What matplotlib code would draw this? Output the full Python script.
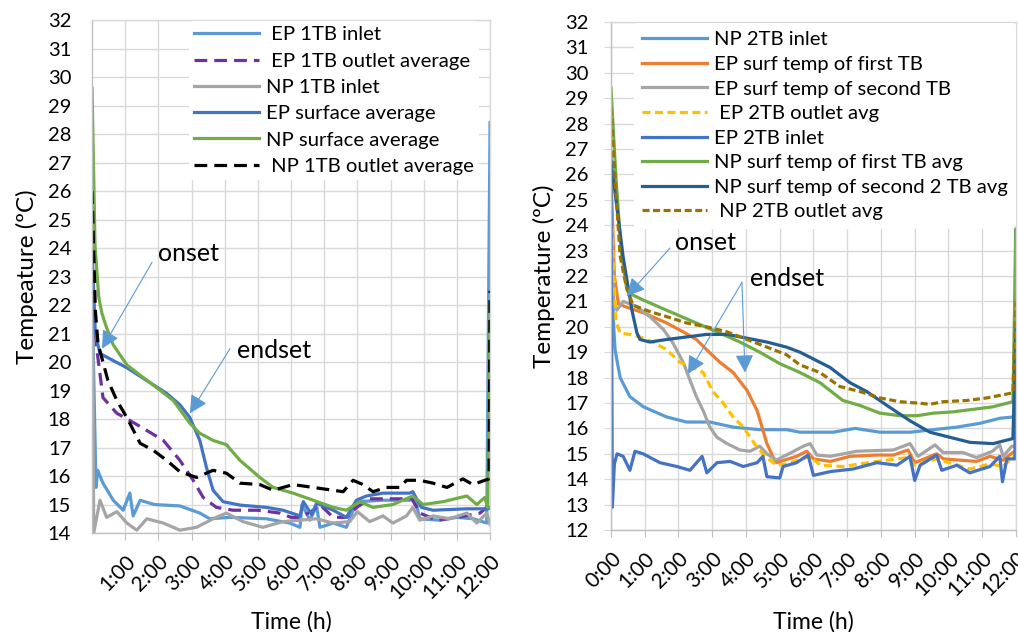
import matplotlib
matplotlib.use('Agg')
import matplotlib.pyplot as plt

# ---- Datos panel izquierdo (1TB) : tiempo en horas, temperatura en ºC ----
t_ep1_inlet = [0, 0.12, 0.17, 0.33, 0.64, 0.94, 1.14, 1.24, 1.45, 1.88, 2.65, 3.25, 3.55, 4.16, 5.26, 5.96,
               6.27, 6.33, 6.57, 6.77, 6.87, 7.27, 7.67, 7.97, 8.77, 9.58, 9.72, 9.88, 10.5, 11.0, 11.5, 11.9, 12.0]
ep1_inlet = [22.5, 15.6, 16.2, 15.75, 15.15, 14.8, 15.4, 14.6, 15.15, 15.0, 14.95, 14.7, 14.5, 14.55, 14.5, 14.35,
             14.2, 15.0, 14.45, 14.95, 14.2, 14.35, 14.2, 15.1, 15.15, 15.15, 15.3, 14.5, 14.45, 14.55, 14.5, 14.35, 28.4]

t_ep1_outlet = [0.1, 0.15, 0.33, 0.75, 1.14, 1.65, 2.15, 2.65, 3.05, 3.35, 3.75, 4.25, 5.0, 5.66, 6.0, 6.27,
                6.67, 6.87, 7.27, 7.67, 7.98, 8.37, 9.18, 9.64, 9.79, 9.88, 10.4, 11.0, 11.7, 11.9, 12.0]
ep1_outlet = [21.0, 20.4, 18.75, 18.2, 17.95, 17.6, 17.25, 16.55, 15.85, 15.25, 14.9, 14.8, 14.8, 14.7, 14.55, 14.55,
              14.8, 15.0, 14.55, 14.55, 14.9, 15.2, 15.2, 15.2, 14.9, 14.7, 14.45, 14.55, 14.7, 14.9, 14.9]

t_np1_inlet = [0, 0.05, 0.24, 0.44, 0.75, 1.05, 1.35, 1.65, 2.15, 2.65, 3.15, 3.65, 4.05, 4.55, 5.15, 5.75, 6.27,
               6.77, 7.26, 7.77, 8.0, 8.37, 8.77, 9.07, 9.48, 9.67, 9.88, 10.28, 10.78, 11.3, 11.6, 11.9, 12.0]
np1_inlet = [27.0, 14.0, 15.15, 14.55, 14.75, 14.35, 14.1, 14.5, 14.35, 14.1, 14.2, 14.5, 14.7, 14.4, 14.2, 14.4, 14.45,
             14.5, 14.35, 14.4, 14.75, 14.4, 14.6, 14.35, 14.6, 14.9, 14.45, 14.6, 14.5, 14.7, 14.35, 14.7, 14.3]

t_ep_surf = [0, 0.1, 0.24, 0.64, 1.05, 1.65, 2.25, 2.65, 2.95, 3.25, 3.45, 3.65, 3.95, 4.46, 5.26, 5.76, 6.27,
             6.37, 6.62, 6.77, 7.27, 7.67, 7.97, 8.27, 8.77, 9.58, 9.67, 9.93, 10.28, 11.3, 11.95, 12.0]
ep_surf = [24.0, 21.0, 20.3, 20.05, 19.8, 19.35, 18.9, 18.5, 18.05, 17.25, 16.3, 15.5, 15.1, 14.98, 14.9, 14.8, 14.6,
           15.1, 14.65, 15.05, 14.8, 14.55, 15.15, 15.3, 15.4, 15.4, 15.45, 14.9, 14.8, 14.85, 14.85, 14.9]

t_np_surf = [0, 0.09, 0.2, 0.3, 0.44, 0.64, 1.05, 1.55, 1.95, 2.45, 2.95, 3.25, 3.65, 4.05, 4.46, 5.06, 5.46, 6.06,
             6.67, 7.27, 7.67, 8.07, 8.47, 9.07, 9.67, 9.98, 10.58, 11.3, 11.6, 11.84, 11.93, 12.0]
np_surf = [29.6, 24.1, 22.3, 21.7, 21.2, 20.6, 19.9, 19.45, 19.1, 18.65, 17.85, 17.5, 17.25, 17.1, 16.55, 15.95, 15.6,
           15.4, 15.15, 14.9, 14.8, 15.1, 14.9, 15.0, 15.3, 15.0, 15.1, 15.3, 15.0, 15.25, 14.9, 22.0]

t_np1_outlet = [0, 0.1, 0.18, 0.48, 0.75, 1.05, 1.45, 1.85, 2.25, 2.65, 3.15, 3.65, 4.05, 4.46, 5.06, 5.46, 6.06,
                6.67, 7.27, 7.57, 7.87, 8.17, 8.47, 8.87, 9.28, 9.48, 9.88, 10.28, 10.7, 11.18, 11.48, 11.84, 11.97, 12.0]
np1_outlet = [26.0, 21.8, 20.65, 19.35, 18.65, 18.05, 17.15, 16.9, 16.55, 16.15, 15.95, 16.2, 16.1, 15.75, 15.7, 15.5,
              15.7, 15.6, 15.5, 15.45, 15.85, 15.7, 15.45, 15.6, 15.6, 15.85, 15.85, 15.75, 15.6, 15.9, 15.7, 15.85,
              15.9, 22.5]

# ---- Datos panel derecho (2TB) ----
t_np2_inlet = [0.03, 0.08, 0.12, 0.27, 0.56, 0.96, 1.65, 2.24, 2.93, 3.62, 4.41, 5.2, 5.6, 6.58, 7.23, 7.97,
               8.86, 9.55, 10.25, 10.93, 11.53, 11.93, 12.0]
np2_inlet = [22.0, 20.0, 19.1, 18.0, 17.25, 16.85, 16.45, 16.25, 16.25, 16.05, 15.95, 15.95, 15.85, 15.85, 16.0, 15.85,
             15.85, 15.95, 16.05, 16.2, 16.4, 16.45, 16.5]

t_ep_first = [0, 0.1, 0.22, 0.41, 0.96, 1.65, 2.14, 2.53, 2.83, 3.23, 3.62, 4.03, 4.33, 4.62, 4.81, 4.9, 5.5, 5.8,
              6.0, 6.5, 7.08, 7.88, 8.37, 8.8, 9.0, 9.65, 9.85, 10.83, 11.23, 11.62, 11.9, 12.0]
ep_first = [26.0, 22.0, 20.9, 20.8, 20.55, 20.15, 19.8, 19.5, 19.1, 18.6, 18.2, 17.5, 16.7, 15.4, 14.85, 14.65, 14.9,
            15.1, 14.8, 14.7, 14.9, 14.95, 14.95, 15.15, 14.65, 15.0, 14.8, 14.7, 14.9, 14.75, 15.05, 15.1]

t_ep_second = [0, 0.08, 0.17, 0.36, 0.76, 1.15, 1.55, 1.84, 2.14, 2.34, 2.53, 2.73, 2.93, 3.14, 3.44, 3.82, 4.12,
               4.41, 4.62, 4.9, 5.2, 5.7, 5.9, 6.1, 6.5, 7.28, 8.37, 8.86, 9.1, 9.6, 9.84, 10.43, 10.83, 11.3,
               11.52, 11.62, 11.88, 12.0]
ep_second = [25.0, 21.0, 20.65, 21.0, 20.8, 20.4, 19.9, 19.35, 18.6, 17.9, 17.25, 16.7, 16.05, 15.65, 15.4, 15.15,
             15.1, 15.3, 15.0, 14.75, 14.95, 15.3, 15.4, 14.95, 14.9, 15.1, 15.15, 15.4, 14.9, 15.35, 15.05, 15.05,
             14.85, 15.1, 15.35, 14.9, 15.3, 15.3]

t_ep2_outlet = [0.02, 0.15, 0.27, 0.56, 0.86, 1.24, 1.65, 2.04, 2.44, 2.73, 3.02, 3.32, 3.62, 3.92, 4.33, 4.62,
                4.9, 5.2, 5.9, 6.2, 6.87, 7.88, 8.77, 9.0, 9.65, 10.14, 10.63, 11.23, 11.62, 11.88, 12.0]
ep2_outlet = [24.0, 20.2, 19.75, 19.7, 19.6, 19.4, 19.1, 18.6, 18.4, 18.2, 17.45, 17.0, 16.45, 16.05, 15.25, 14.85,
              14.55, 14.6, 14.9, 14.55, 14.5, 14.7, 14.85, 14.55, 14.8, 14.6, 14.4, 14.6, 14.5, 14.85, 14.9]

t_ep2_inlet = [0, 0.04, 0.1, 0.18, 0.36, 0.56, 0.71, 0.95, 1.45, 1.95, 2.34, 2.7, 2.84, 3.14, 3.53, 3.92, 4.33,
               4.5, 4.62, 5.0, 5.1, 5.5, 5.84, 6.0, 6.5, 7.17, 7.88, 8.47, 8.86, 9.0, 9.16, 9.65, 9.8, 10.25,
               10.63, 11.23, 11.52, 11.6, 11.73, 11.97, 12.0]
ep2_inlet = [26.8, 12.9, 14.6, 15.0, 14.9, 14.35, 15.1, 15.0, 14.65, 14.5, 14.35, 14.9, 14.25, 14.65, 14.7, 14.5,
             14.65, 14.9, 14.1, 14.05, 14.5, 14.65, 14.95, 14.15, 14.3, 14.4, 14.65, 14.55, 14.9, 13.95, 14.55,
             14.95, 14.35, 14.55, 14.25, 14.5, 14.9, 13.9, 14.8, 14.8, 30.0]

t_np_first = [0, 0.15, 0.3, 0.47, 0.65, 0.96, 1.65, 2.44, 3.14, 3.82, 4.41, 5.0, 5.6, 6.19, 6.87, 7.38, 7.97,
              8.56, 9.07, 9.55, 10.13, 10.73, 11.32, 11.91, 12.0]
np_first = [29.4, 25.8, 23.0, 21.45, 21.25, 21.05, 20.65, 20.2, 19.8, 19.4, 19.0, 18.55, 18.2, 17.8, 17.1, 16.9,
            16.6, 16.5, 16.5, 16.6, 16.65, 16.75, 16.85, 17.05, 24.0]

t_np_second = [0, 0.1, 0.36, 0.62, 0.77, 0.86, 1.15, 1.65, 2.24, 2.83, 3.44, 4.03, 4.62, 5.2, 5.6, 6.49, 7.08,
               7.58, 8.18, 8.86, 9.45, 10.04, 10.64, 11.32, 11.91, 12.0]
np_second = [26.5, 25.5, 22.75, 20.65, 19.75, 19.5, 19.4, 19.5, 19.6, 19.7, 19.7, 19.55, 19.4, 19.2, 19.0, 18.4,
             17.8, 17.45, 16.9, 16.3, 15.85, 15.65, 15.45, 15.4, 15.6, 20.0]

t_np2_outlet = [0, 0.15, 0.27, 0.45, 0.65, 1.15, 1.65, 2.24, 2.83, 3.44, 4.03, 4.62, 5.2, 5.6, 6.19, 6.78, 7.38,
                7.97, 8.56, 9.07, 9.45, 9.84, 10.55, 11.14, 11.91, 12.0]
np2_outlet = [28.6, 25.2, 22.8, 21.6, 20.85, 20.6, 20.4, 20.15, 20.0, 19.8, 19.5, 19.2, 18.9, 18.5, 18.2, 17.65,
              17.45, 17.2, 17.05, 17.0, 16.95, 17.05, 17.1, 17.2, 17.4, 21.0]

left_ticks = list(range(1, 13))
left_tick_labels = [f"{h}:00" for h in left_ticks]
right_ticks = list(range(0, 13))
right_tick_labels = [f"{h}:00" for h in right_ticks]

plt.rcParams['font.family'] = ['Lato', 'DejaVu Sans']

GRID = '#D9D9D9'
ARROW = '#5B9BD5'
LW = 2.3
LEG_FS = 14.6


def style_axes(ax, ymin, ticks, labels, ytick_len, ypad):
    ax.set_xlim(0, 12)
    ax.set_ylim(ymin, 32)
    ax.set_yticks(range(ymin, 33))
    ax.set_xticks(ticks)
    ax.set_xticklabels(labels, rotation=45, ha='right', va='top', rotation_mode='anchor')
    ax.grid(True, color=GRID, linewidth=1.0)
    ax.set_axisbelow(True)
    for s in ax.spines.values():
        s.set_color(GRID)
        s.set_linewidth(1.0)
    ax.spines['left'].set_color('#BFBFBF')
    ax.spines['bottom'].set_color('#BFBFBF')
    ax.tick_params(axis='x', length=5, color='#BFBFBF', labelsize=15, pad=8)
    ax.tick_params(axis='y', length=ytick_len, color=GRID, labelsize=14.5, pad=ypad)
    ax.set_xlabel('Time (h)', fontsize=16.5)


def arrow(ax, xy, xytext):
    ax.annotate('', xy=xy, xytext=xytext,
                arrowprops=dict(arrowstyle='-|>,head_length=0.55,head_width=0.28', color=ARROW,
                                lw=0.8, mutation_scale=20, shrinkA=0, shrinkB=0))


fig = plt.figure(figsize=(10.18, 6.32), dpi=100)
ax1 = fig.add_axes([0.0904, 0.1566, 0.391, 0.8117])
ax2 = fig.add_axes([0.6002, 0.1614, 0.3978, 0.8038])

# Panel izquierdo
ax1.plot(t_ep1_inlet, ep1_inlet, color='#5B9BD5', lw=LW, label=' EP 1TB inlet')
ax1.plot(t_ep1_outlet, ep1_outlet, color='#7030A0', lw=LW, ls=(0, (4, 2.2)), label=' EP 1TB outlet average')
ax1.plot(t_np1_inlet, np1_inlet, color='#A5A5A5', lw=LW, label='NP 1TB inlet')
ax1.plot(t_ep_surf, ep_surf, color='#4472C4', lw=LW, label='EP surface average')
ax1.plot(t_np_surf, np_surf, color='#70AD47', lw=LW, label='NP surface average')
ax1.plot(t_np1_outlet, np1_outlet, color='black', lw=LW, ls=(0, (4, 2.2)), label=' NP 1TB outlet average')
style_axes(ax1, 14, left_ticks, left_tick_labels, 0, 15)
ax1.xaxis.set_label_coords(0.5, -0.152)
ax1.set_ylabel('Tempeature (ºC)', fontsize=17.5)
ax1.yaxis.set_label_coords(-0.135, 0.5)
ax1.legend(loc='upper right', bbox_to_anchor=(0.975, 1.0), fontsize=LEG_FS, frameon=True, framealpha=1,
           edgecolor='none', facecolor='white', handlelength=3.2, handletextpad=0.35, labelspacing=0.45,
           borderaxespad=0.05, borderpad=0.25)

ax1.text(2.0, 23.8, 'onset', fontsize=18, va='center', ha='left')
arrow(ax1, (0.3, 20.47), (1.81, 23.5))
ax1.text(4.37, 20.4, 'endset', fontsize=18, va='center', ha='left')
arrow(ax1, (2.95, 18.2), (4.16, 20.47))

# Panel derecho
ax2.plot(t_np2_inlet, np2_inlet, color='#5B9BD5', lw=LW, label='NP 2TB inlet')
ax2.plot(t_ep_first, ep_first, color='#ED7D31', lw=LW, label='EP surf temp of first TB')
ax2.plot(t_ep_second, ep_second, color='#A5A5A5', lw=LW, label='EP surf temp of second TB')
ax2.plot(t_ep2_outlet, ep2_outlet, color='#FFC000', lw=LW, ls=(0, (2.5, 1.4)), label=' EP 2TB outlet avg')
ax2.plot(t_ep2_inlet, ep2_inlet, color='#4472C4', lw=LW, label='EP 2TB inlet')
ax2.plot(t_np_first, np_first, color='#70AD47', lw=LW, label='NP surf temp of first TB avg')
ax2.plot(t_np_second, np_second, color='#255E91', lw=LW, label='NP surf temp of second 2 TB avg')
ax2.plot(t_np2_outlet, np2_outlet, color='#997300', lw=LW, ls=(0, (2.2, 1.1)), label=' NP 2TB outlet avg')
style_axes(ax2, 12, right_ticks, right_tick_labels, 5, 11)
ax2.xaxis.set_label_coords(0.5, -0.16)
ax2.set_ylabel('Temperature (ºC)', fontsize=17.5)
ax2.yaxis.set_label_coords(-0.138, 0.5)
ax2.legend(loc='upper left', bbox_to_anchor=(0.055, 1.0), fontsize=LEG_FS, frameon=True, framealpha=1,
           edgecolor='none', facecolor='white', handlelength=3.2, handletextpad=0.35, labelspacing=0.365,
           borderaxespad=0.05, borderpad=0.4)

ax2.text(1.9, 23.3, 'onset', fontsize=18, va='center', ha='left')
arrow(ax2, (0.47, 21.2), (1.75, 23.1))
ax2.text(4.12, 21.9, 'endset', fontsize=18, va='center', ha='left')
arrow(ax2, (2.28, 18.15), (3.88, 21.75))
arrow(ax2, (3.97, 18.2), (3.88, 21.75))

fig.savefig('out.png', dpi=100)
plt.close(fig)
